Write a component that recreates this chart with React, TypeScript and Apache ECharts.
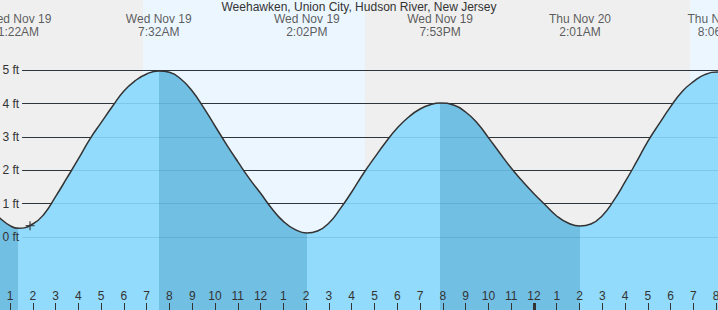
import React, { useEffect, useRef } from 'react';
import * as echarts from 'echarts';

const TITLE = 'Weehawken, Union City, Hudson River, New Jersey';

// Hours since Wed Nov 19 00:00 and tide height in feet
const tideHours = [
  0, 0.5, 1, 1.37, 2, 2.5, 3, 3.5, 4, 4.5, 5, 5.5, 6, 6.5, 7, 7.53,
  8, 8.5, 9, 9.5, 10, 10.5, 11, 11.5, 12, 12.5, 13, 13.5, 14.03,
  14.5, 15, 15.5, 16, 16.5, 17, 17.5, 18, 18.5, 19, 19.5, 19.88,
  20.5, 21, 21.5, 22, 22.5, 23, 23.5, 24, 24.5, 25, 25.5, 26.02,
  26.5, 27, 27.5, 28, 28.5, 29, 29.5, 30, 30.5, 31, 31.5, 32.1, 32.5, 33,
];
const tideFeet = [
  0.90, 0.60, 0.34, 0.26, 0.39, 0.69, 1.21, 1.77, 2.34, 2.93, 3.43, 3.92, 4.38, 4.69, 4.89, 4.98,
  4.94, 4.74, 4.38, 3.88, 3.33, 2.78, 2.26, 1.76, 1.31, 0.85, 0.47, 0.23, 0.12,
  0.18, 0.42, 0.85, 1.35, 1.89, 2.38, 2.85, 3.27, 3.60, 3.84, 3.98, 4.02,
  3.95, 3.75, 3.43, 2.98, 2.52, 2.07, 1.67, 1.30, 0.96, 0.63, 0.42, 0.33,
  0.39, 0.64, 1.09, 1.65, 2.25, 2.87, 3.40, 3.91, 4.36, 4.66, 4.87, 4.95, 4.92, 4.80,
];

// High / low tides
const extremeHours = [1.37, 7.53, 14.03, 19.88, 26.02, 32.1];
const extremeKinds = ['low', 'high', 'low', 'high', 'low', 'high'];
const extremeDays = ['Wed Nov 19', 'Wed Nov 19', 'Wed Nov 19', 'Wed Nov 19', 'Thu Nov 20', 'Thu Nov 20'];
const extremeTimes = ['1:22AM', '7:32AM', '2:02PM', '7:53PM', '2:01AM', '8:06AM'];

// Daylight periods (hours)
const daylight = [
  [6.84, 16.58],
  [30.85, 33],
];

// Height gridlines (ft)
const footLevels = [0, 1, 2, 3, 4, 5];

// Current time marker [hour, ft]
const nowPoint = [1.88, 0.34];

// Axis ranges
const X_MIN = 0;
const X_MAX = 33;
const Y_MIN = -2.19;
const Y_MAX = 7.109;

// Layout constants
const GRID_START_HOUR = 1.53;
const LABEL_FT = 6.33;
const FONT = '"Liberation Sans", Arial, sans-serif';
const FLOOD = '#92dbfc';
const EBB = '#72bfe4';

function hourLabel(v: number) {
  const h = Math.round(v) % 12;
  return String(h === 0 ? 12 : h);
}

export default function App() {
  const ref = useRef<HTMLDivElement>(null);

  useEffect(() => {
    document.body.style.margin = '0';
    if (!ref.current) return;
    const chart = echarts.init(ref.current, undefined, { renderer: 'svg' });

    const tideData = tideHours.map((h, i) => [h, tideFeet[i]]);

    const pieces: any[] = [];
    pieces.push({ lt: extremeHours[0], color: extremeKinds[0] === 'low' ? EBB : FLOOD });
    extremeHours.forEach((h, i) => {
      const color = extremeKinds[i] === 'low' ? FLOOD : EBB;
      if (i < extremeHours.length - 1) pieces.push({ gte: h, lt: extremeHours[i + 1], color });
      else pieces.push({ gte: h, color });
    });

    const levelLines = (withName: boolean) =>
      footLevels.map((v) => [
        { coord: [GRID_START_HOUR, v], name: withName ? `${v} ft` : '' },
        { coord: [X_MAX, v] },
      ]);

    const option: any = {
      animation: false,
      backgroundColor: '#efefef',
      textStyle: { fontFamily: FONT },
      title: {
        text: TITLE,
        left: 'center',
        top: 1,
        padding: 0,
        textStyle: { fontSize: 12, fontWeight: 'normal', color: '#333', fontFamily: FONT },
      },
      grid: {
        left: -12.78,
        right: -20.96,
        top: 0,
        bottom: 0,
        containLabel: false,
        outerBoundsMode: 'none',
      },
      xAxis: [
        {
          type: 'value',
          min: X_MIN,
          max: X_MAX,
          interval: 1,
          position: 'bottom',
          z: 20,
          axisLine: { show: false, onZero: false },
          splitLine: { show: false },
          axisTick: { inside: true, length: 7, lineStyle: { color: '#333', width: 1 } },
          axisLabel: {
            inside: true,
            margin: 8,
            fontSize: 12,
            color: '#333',
            fontFamily: FONT,
            formatter: hourLabel,
          },
        },
        {
          type: 'value',
          min: X_MIN,
          max: X_MAX,
          interval: 24,
          position: 'bottom',
          z: 21,
          axisLine: { show: false, onZero: false },
          splitLine: { show: false },
          axisLabel: { show: false },
          axisTick: { inside: true, length: 7, lineStyle: { color: '#333', width: 3 } },
        },
      ],
      yAxis: { type: 'value', min: Y_MIN, max: Y_MAX, show: false },
      visualMap: {
        show: false,
        type: 'piecewise',
        dimension: 0,
        seriesIndex: 2,
        pieces,
      },
      series: [
        {
          type: 'line',
          data: tideData,
          showSymbol: false,
          silent: true,
          lineStyle: { opacity: 0 },
          z: 1,
          markArea: {
            silent: true,
            z: 1,
            itemStyle: { color: '#ecf6ff' },
            data: daylight.map(([a, b]) => [{ xAxis: a }, { xAxis: b }]),
          },
        },
        {
          type: 'line',
          data: tideData,
          showSymbol: false,
          silent: true,
          lineStyle: { opacity: 0 },
          z: 2,
          markLine: {
            silent: true,
            z: 2,
            symbol: 'none',
            lineStyle: { color: '#333', width: 1, type: 'solid' },
            label: { show: false },
            data: levelLines(false),
          },
        },
        {
          type: 'line',
          data: tideData,
          smooth: true,
          symbol: 'none',
          silent: true,
          lineStyle: { width: 0 },
          areaStyle: { origin: 'start', opacity: 1 },
          z: 3,
        },
        {
          type: 'line',
          data: tideData,
          showSymbol: false,
          silent: true,
          lineStyle: { opacity: 0 },
          z: 4,
          markLine: {
            silent: true,
            z: 4,
            symbol: 'none',
            lineStyle: { color: 'rgba(0,70,110,0.13)', width: 1, type: 'solid' },
            label: {
              show: true,
              position: 'start',
              distance: 3,
              formatter: '{b}',
              fontSize: 12,
              color: '#333',
              fontFamily: FONT,
            },
            data: levelLines(true),
          },
        },
        {
          type: 'line',
          data: tideData,
          smooth: true,
          symbol: 'none',
          silent: true,
          lineStyle: { color: '#333', width: 1.5 },
          z: 5,
        },
        {
          type: 'scatter',
          silent: true,
          symbolSize: 0,
          z: 6,
          data: extremeHours.map((h, i) => ({
            value: [h, LABEL_FT],
            name: `${extremeDays[i]}\n${extremeTimes[i]}`,
          })),
          label: {
            show: true,
            position: 'inside',
            formatter: '{b}',
            fontSize: 12,
            lineHeight: 13,
            color: '#333',
            fontFamily: FONT,
          },
        },
        {
          type: 'scatter',
          silent: true,
          z: 7,
          symbol: 'path://M4,0H5.5V9.5H4Z M0,4H9.5V5.5H0Z',
          symbolSize: 9,
          itemStyle: { color: '#333' },
          data: [nowPoint],
        },
      ],
    };

    chart.setOption(option);
    return () => chart.dispose();
  }, []);

  return <div ref={ref} style={{ width: 718, height: 310 }} />;
}
